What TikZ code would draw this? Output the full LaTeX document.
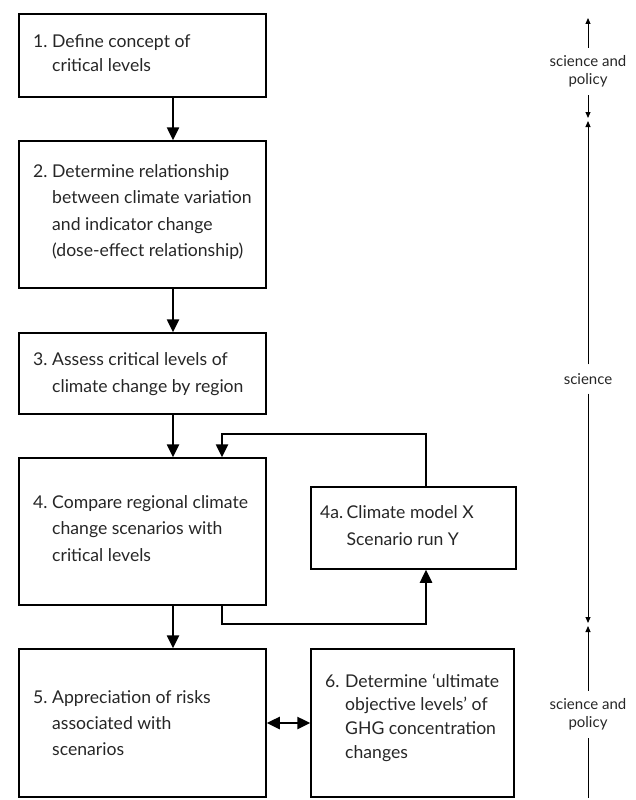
\documentclass[tikz,border=0pt]{standalone}
\usepackage{fontspec}
\setmainfont{Lato}
\usetikzlibrary{arrows.meta}

\tikzset{
  box/.style={draw, line width=1.5pt, rectangle, inner sep=0pt},
  conn/.style={line width=2.5pt, -{Triangle[length=13pt,width=12pt]}},
  dconn/.style={line width=2.5pt, {Triangle[length=13pt,width=12pt]}-{Triangle[length=13pt,width=12pt]}},
  axisln/.style={line width=1pt},
  axtip/.style={axisln, -{Triangle[length=6pt,width=5pt]}},
  steptxt/.style={anchor=base west, inner sep=0pt, text=black!85},
  axlabel/.style={align=center, inner sep=0pt, text=black!85,
    font=\fontsize{15}{18}\selectfont},
}

\begin{document}
\begin{tikzpicture}[x=1pt, y=-1pt]
  \useasboundingbox (0,0) rectangle (636,800);

  % step boxes
  \node[box, minimum width=247pt, minimum height=83pt]  (b1)  at (142.5,55.5)  {};
  \node[box, minimum width=247pt, minimum height=147pt] (b2)  at (142.5,214.5) {};
  \node[box, minimum width=247pt, minimum height=81pt]  (b3)  at (142.5,373.5) {};
  \node[box, minimum width=247pt, minimum height=147pt] (b4)  at (142.5,531.5) {};
  \node[box, minimum width=205pt, minimum height=82pt]  (b4a) at (413.5,528)   {};
  \node[box, minimum width=247pt, minimum height=148pt] (b5)  at (142.5,723)   {};
  \node[box, minimum width=203pt, minimum height=148pt] (b6)  at (412.5,723)   {};

  % step texts: number in a fixed-width column, wrapped lines hang after it
  \node[steptxt, font=\fontsize{17.6}{24}\selectfont] (t1) at (33,48)
    {\begin{tabular}[t]{@{}l@{}l@{}}\makebox[19pt][l]{1.} & Define concept of\\ & critical levels\end{tabular}};
  \node[steptxt, font=\fontsize{17.6}{26.6}\selectfont] (t2) at (33,177)
    {\begin{tabular}[t]{@{}l@{}l@{}}\makebox[19pt][l]{2.} & Determine relationship\\ & between climate variation\\ & and indicator change\\ & (dose-effect relationship)\end{tabular}};
  \node[steptxt, font=\fontsize{17.6}{27}\selectfont] (t3) at (33,365)
    {\begin{tabular}[t]{@{}l@{}l@{}}\makebox[19pt][l]{3.} & Assess critical levels of\\ & climate change by region\end{tabular}};
  \node[steptxt, font=\fontsize{17.6}{26.5}\selectfont] (t4) at (33,508)
    {\begin{tabular}[t]{@{}l@{}l@{}}\makebox[19pt][l]{4.} & Compare regional climate\\ & change scenarios with\\ & critical levels\end{tabular}};
  \node[steptxt, font=\fontsize{17.6}{27}\selectfont] (t4a) at (320,518)
    {\begin{tabular}[t]{@{}l@{}l@{}}\makebox[26.5pt][l]{4a.} & Climate model X\\ & Scenario run Y\end{tabular}};
  \node[steptxt, font=\fontsize{17.6}{26}\selectfont] (t5) at (33,703)
    {\begin{tabular}[t]{@{}l@{}l@{}}\makebox[19pt][l]{5.} & Appreciation of risks\\ & associated with\\ & scenarios\end{tabular}};
  \node[steptxt, font=\fontsize{17.6}{23.7}\selectfont] (t6) at (325,687)
    {\begin{tabular}[t]{@{}l@{}l@{}}\makebox[20pt][l]{6.} & Determine ‘ultimate\\ & objective levels’ of\\ & GHG concentration\\ & changes\end{tabular}};

  % flow connectors
  \coordinate (col) at (173,0);
  \coordinate (lt) at (426,434);
  \coordinate (ll) at (222,434);
  \coordinate (lb) at (426,624);
  \draw[conn] (b1.south -| col) -- (b2.north -| col);
  \draw[conn] (b2.south -| col) -- (b3.north -| col);
  \draw[conn] (b3.south -| col) -- (b4.north -| col);
  \draw[conn] (b4.south -| col) -- (b5.north -| col);
  \draw[conn] (b4a.north -| lt) -- (lt) -- (ll) -- (b4.north -| ll);
  \draw[conn] (b4.south -| ll) -- (ll |- lb) -- (lb) -- (b4a.south -| lb);
  \draw[dconn] (b5.east) -- (b6.west);

  % side scale
  \node[axlabel] (s1) at (588,71)  {science and\\policy};
  \node[axlabel] (s2) at (588,379) {science};
  \node[axlabel] (s3) at (588,714) {science and\\policy};
  \coordinate (a1) at (588,18);
  \coordinate (a2) at (588,118);
  \coordinate (a3) at (588,121);
  \coordinate (a4) at (588,623);
  \coordinate (a5) at (588,626);
  \coordinate (a6) at (588,798);
  \draw[axtip] ([yshift=7pt]s1.north) -- (a1);
  \draw[axtip] ([yshift=-8pt]s1.south) -- (a2);
  \draw[axtip] ([yshift=9pt]s2.north) -- (a3);
  \draw[axtip] ([yshift=-9pt]s2.south) -- (a4);
  \draw[axtip] ([yshift=7pt]s3.north) -- (a5);
  \draw[axisln] ([yshift=-8pt]s3.south) -- (a6);
\end{tikzpicture}
\end{document}
